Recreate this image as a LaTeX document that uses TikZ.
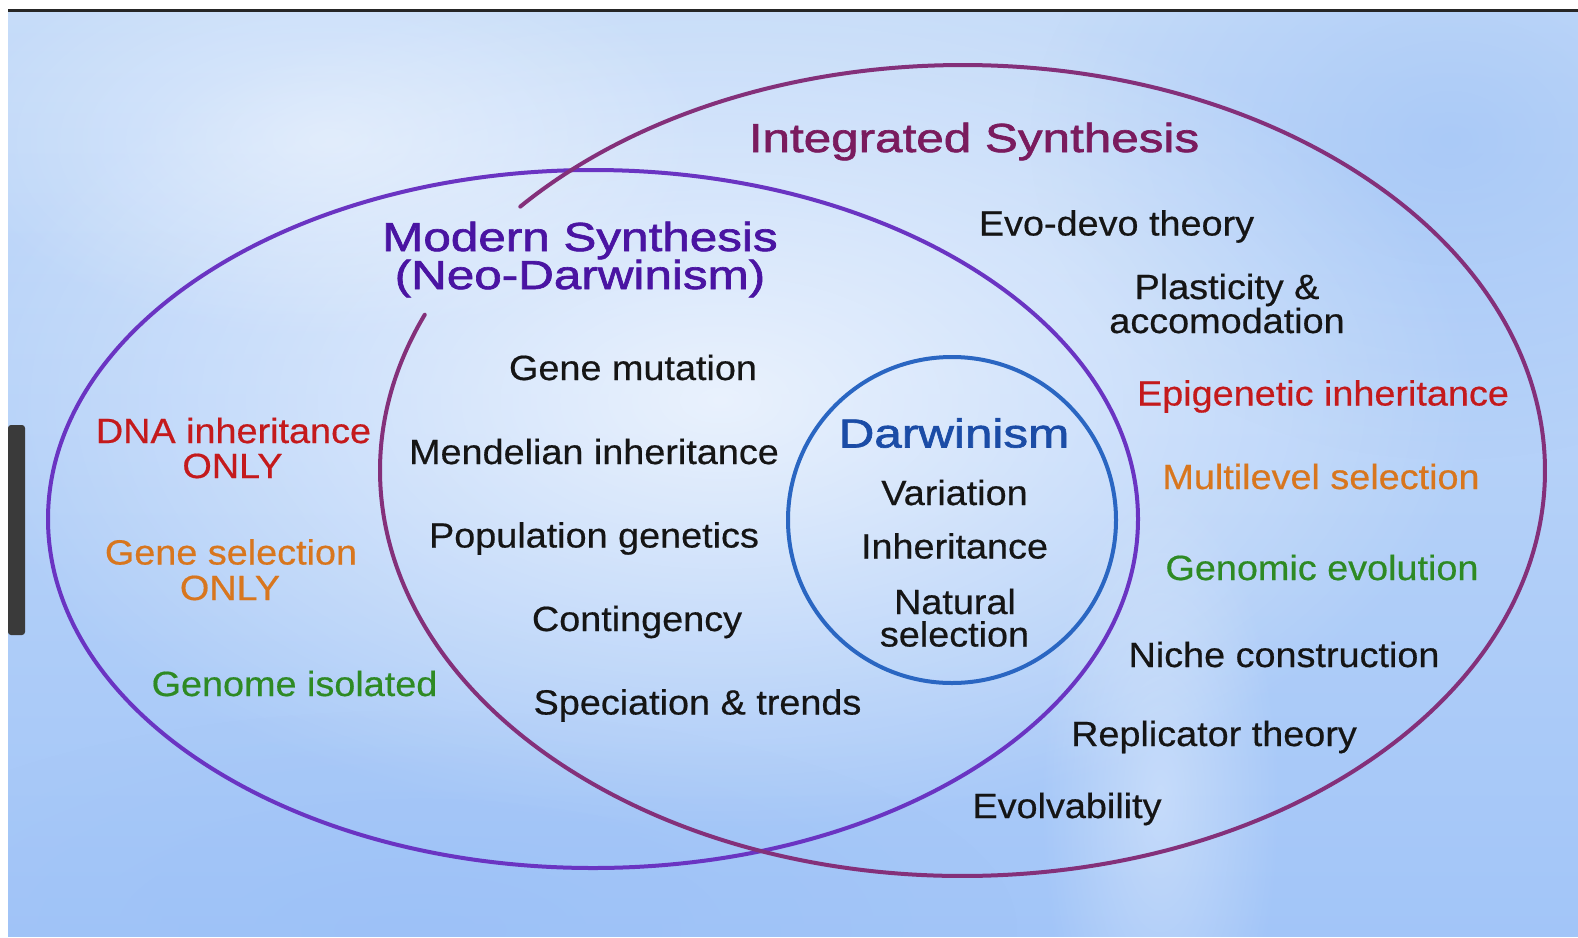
\documentclass[tikz,border=0pt]{standalone}
\usepackage{fontspec}
\setmainfont{Liberation Sans}
\newfontfamily\bodyf{Liberation Sans}[FakeStretch=1.08,FakeBold=0.5]
\newfontfamily\titlef{Liberation Sans}[FakeStretch=1.22,FakeBold=1.6]
\usetikzlibrary{fadings}
\tikzfading[name=glow, inner color=transparent!0, outer color=transparent!100]
\definecolor{bgtop}{HTML}{C6DCF9}
\definecolor{bgbot}{HTML}{A2C5F8}
\definecolor{skydeep}{HTML}{98BEF6}
\definecolor{modernline}{HTML}{6A34C2}
\definecolor{moderntxt}{HTML}{4A14A2}
\definecolor{integline}{HTML}{84307A}
\definecolor{integtxt}{HTML}{7A1B5E}
\definecolor{darwline}{HTML}{2A66C2}
\definecolor{darwtxt}{HTML}{1B4CA6}
\definecolor{txtblack}{HTML}{151515}
\definecolor{txtred}{HTML}{C41A1C}
\definecolor{txtorange}{HTML}{D8761E}
\definecolor{txtgreen}{HTML}{2E8A24}
\definecolor{framegray}{HTML}{262626}
\definecolor{bargray}{HTML}{3A3A3A}
\begin{document}
\begin{tikzpicture}[x=1pt,y=-1pt,
  lbl/.style={anchor=base, inner sep=0pt, font=\bodyf\fontsize{35}{38}\selectfont, text=txtblack},
  ttl/.style={anchor=base, inner sep=0pt, font=\titlef\fontsize{40.5}{44}\selectfont},
  ring/.style={line width=4pt}]
\useasboundingbox (0,0) rectangle (1578,937);
% background
\fill[white] (0,0) rectangle (1578,937);
\shade[top color=bgtop, bottom color=bgbot] (8,12) rectangle (1578,936);
\begin{scope}
\clip (8,12) rectangle (1578,936);
\fill[skydeep, opacity=0.55, path fading=glow] (1450,140) ellipse [x radius=420, y radius=320];
\fill[skydeep, opacity=0.5, path fading=glow] (420,930) ellipse [x radius=600, y radius=220];
\fill[white, opacity=0.7, path fading=glow] (720,400) ellipse [x radius=760, y radius=430];
\fill[white, opacity=0.45, path fading=glow] (330,140) ellipse [x radius=380, y radius=200];
\fill[white, opacity=0.35, path fading=glow] (1160,800) ellipse [x radius=120, y radius=320];
\end{scope}
\fill[framegray] (8,9) rectangle (1578,12);
\fill[bargray, rounded corners=3pt] (8,425) rectangle (25,635);
% circles
\coordinate (MC) at (593,519);
\coordinate (IC) at (962.5,470.5);
\coordinate (DC) at (952,520);
\draw[ring, modernline] (MC) ellipse [x radius=545, y radius=349];
\draw[ring, integline, line cap=round] ([shift={(220.6:582.5 and 405.5)}]IC) arc[start angle=220.6, end angle=562.6, x radius=582.5, y radius=405.5];
\draw[ring, darwline] (DC) ellipse [x radius=164, y radius=163];
% titles
\node[ttl, text=integtxt] (integ) at (974,152) {Integrated Synthesis};
\node[ttl, text=moderntxt] (modern1) at (580,251) {Modern Synthesis};
\node[ttl, text=moderntxt] (modern2) at (580,289) {(Neo-Darwinism)};
\node[ttl, text=darwtxt] (darw) at (954,447.5) {Darwinism};
% left only
\node[lbl, text=txtred] (dna1) at (233.5,443) {DNA inheritance};
\node[lbl, text=txtred] (dna2) at (232.5,478) {ONLY};
\node[lbl, text=txtorange] (gs1) at (231,564.5) {Gene selection};
\node[lbl, text=txtorange] (gs2) at (230,600) {ONLY};
\node[lbl, text=txtgreen] (giso) at (294.5,696) {Genome isolated};
% modern synthesis
\node[lbl] (gm) at (633,380) {Gene mutation};
\node[lbl] (mend) at (594,464) {Mendelian inheritance};
\node[lbl] (popg) at (594,547.5) {Population genetics};
\node[lbl] (cont) at (637,631) {Contingency};
\node[lbl] (spec) at (697.5,714.5) {Speciation \& trends};
% darwinism
\node[lbl] (var) at (954.5,505) {Variation};
\node[lbl] (inh) at (954.5,558.5) {Inheritance};
\node[lbl] (nat1) at (955,614) {Natural};
\node[lbl] (nat2) at (954.5,646.5) {selection};
% integrated
\node[lbl] (evo) at (1116.5,235.5) {Evo-devo theory};
\node[lbl] (pla1) at (1227,299) {Plasticity \&};
\node[lbl] (pla2) at (1227,333) {accomodation};
\node[lbl, text=txtred] (epi) at (1323,405.5) {Epigenetic inheritance};
\node[lbl, text=txtorange] (mls) at (1321,489) {Multilevel selection};
\node[lbl, text=txtgreen] (gev) at (1322,580) {Genomic evolution};
\node[lbl] (niche) at (1284,667) {Niche construction};
\node[lbl] (repl) at (1214,746) {Replicator theory};
\node[lbl] (evol) at (1067,818) {Evolvability};
\end{tikzpicture}
\end{document}
